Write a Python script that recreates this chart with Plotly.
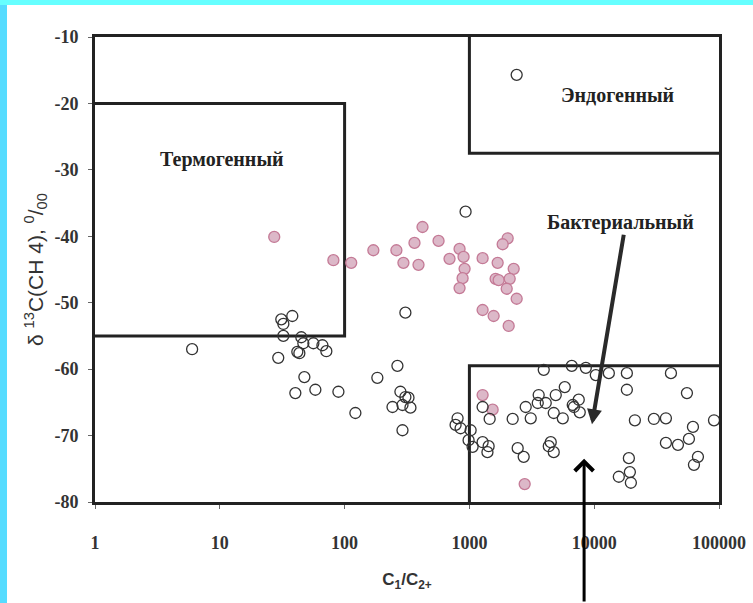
import plotly.graph_objects as go
import math

# ---- data (C1/C2+ ratio, delta13C of CH4 in permil) ----
pink_x = [27.3, 81.3, 113, 170, 260, 296, 363, 391, 421, 566, 693, 834, 898, 915, 882, 834,
          1276, 1684, 2026, 1847, 2264, 1622, 1715, 2103, 1990, 2392, 1276, 1564, 2064,
          1276, 1535, 2773]
pink_y = [-40.1, -43.6, -44.0, -42.1, -42.1, -44.0, -41.0, -44.3, -38.6, -40.7, -43.4, -41.9,
          -43.1, -44.9, -46.3, -47.8, -43.3, -44.0, -40.3, -41.2, -44.9, -46.4, -46.6, -46.4,
          -47.9, -49.4, -51.1, -52.0, -53.5, -63.9, -66.1, -77.3]

black_x = [2392, 932, 307, 38.1, 31.1, 32.3, 32.3, 45.0, 46.7, 56.2, 66.4, 71.4, 41.8, 43.4,
           6.0, 29.4, 47.6, 40.3, 58.3, 89.2, 122, 183,
           265, 280, 307, 242, 291, 337, 325, 291,
           804, 775, 850, 1023, 985, 1061, 1276, 1426, 1395,
           3942, 6610, 8570, 10300, 13100, 5810, 4920, 3590, 4090, 3530, 2825, 3100, 2222,
           1453, 1276, 4740, 5600, 6730, 7520, 7660, 6880, 2437, 2723, 4485, 4740, 4325, 15750,
           18270, 41200, 18270, 55340, 21180, 30070, 37550, 91200, 61840, 57410, 37550, 46880,
           67800, 63000, 18960, 19310, 19670]
black_y = [-15.7, -36.3, -51.5, -52.0, -52.5, -53.2, -55.0, -55.2, -56.1, -56.1, -56.4, -57.3,
           -57.4, -57.6, -57.0, -58.3, -61.2, -63.6, -63.1, -63.4, -66.6, -61.3,
           -59.5, -63.4, -64.2, -65.7, -65.4, -65.8, -64.3, -69.2,
           -67.4, -68.4, -68.9, -69.2, -70.7, -71.7, -71.0, -71.6, -72.5,
           -60.1, -59.5, -59.8, -60.9, -60.6, -62.7, -63.9, -63.9, -65.1, -65.1, -65.7, -67.4,
           -67.5, -67.5, -65.7, -66.6, -67.4, -65.4, -64.6, -66.5, -65.7, -71.9, -73.2, -71.0,
           -72.5, -71.6, -76.2,
           -60.6, -60.6, -63.1, -63.6, -67.7, -67.5, -67.4, -67.7, -68.7, -70.5, -71.1, -71.4,
           -73.2, -74.4, -73.4, -75.5, -77.1]

x_ticks = [1, 10, 100, 1000, 10000, 100000]
x_tick_text = ["1", "10", "100", "1000", "10000", "100000"]
y_ticks = [-10, -20, -30, -40, -50, -60, -70, -80]
y_tick_text = ["-10", "-20", "-30", "-40", "-50", "-60", "-70", "-80"]

# genetic fields (x: C1/C2+, y: delta13C)
thermo_x = [1, 100, 100, 1]
thermo_y = [-20, -20, -55, -55]
endo_x = [1000, 1000, 100000]
endo_y = [-10, -27.5, -27.5]
bact_x = [1000, 1000, 100000]
bact_y = [-80, -59.5, -59.5]

zone_labels = ["Термогенный", "Эндогенный", "Бактериальный"]
zone_label_x = [10.5, 15500, 16300]
zone_label_y = [-28.5, -18.7, -37.9]

W, H = 753, 603
ML, MR, MT, MB = 95, 34, 37, 101
PW, PH = W - ML - MR, H - MT - MB

LINE = "#222222"
fig = go.Figure()

for xs, ys in [(thermo_x, thermo_y), (endo_x, endo_y), (bact_x, bact_y)]:
    fig.add_trace(go.Scatter(x=xs, y=ys, mode="lines",
                             line=dict(color=LINE, width=3),
                             hoverinfo="skip", showlegend=False))

fig.add_trace(go.Scatter(x=pink_x, y=pink_y, mode="markers",
                         marker=dict(size=11, color="#dcb8c8",
                                     line=dict(color="#c47a96", width=1.3)),
                         showlegend=False))
fig.add_trace(go.Scatter(x=black_x, y=black_y, mode="markers",
                         marker=dict(size=11, color="rgba(0,0,0,0)",
                                     line=dict(color="#333333", width=1.3)),
                         showlegend=False))

for t, lx, ly in zip(zone_labels, zone_label_x, zone_label_y):
    fig.add_annotation(x=math.log10(lx), y=ly, text=t, showarrow=False,
                       font=dict(family="Liberation Serif", size=20, color="#222", weight="bold"))

# arrow from "Бактериальный" label
fig.add_annotation(x=math.log10(9600), y=-68.3, ax=32, ay=-191, text="",
                   showarrow=True, arrowhead=2, arrowsize=0.75, arrowwidth=4,
                   arrowcolor="#2a2a2a")
# vertical arrow from below
fig.add_annotation(x=math.log10(8300), y=-73.5, ax=0, ay=145, text="",
                   showarrow=True, arrowhead=4, arrowsize=1.2, arrowwidth=3,
                   arrowcolor="#000000")

# cyan frame strips
def px2paper_x(p):
    return (p - ML) / PW

def px2paper_y(p):
    return (H - MB - p) / PH

fig.add_shape(type="rect", xref="paper", yref="paper",
              x0=px2paper_x(0), x1=px2paper_x(7), y0=px2paper_y(H), y1=px2paper_y(0),
              fillcolor="#55dcff", line=dict(width=0), layer="below")
fig.add_shape(type="rect", xref="paper", yref="paper",
              x0=px2paper_x(0), x1=px2paper_x(W), y0=px2paper_y(5), y1=px2paper_y(0),
              fillcolor="#66ffff", line=dict(width=0), layer="below")

tickfont = dict(family="Liberation Serif", size=18, color="#333", weight="bold")
fig.update_xaxes(type="log", range=[0, 5], tickvals=x_ticks, ticktext=x_tick_text,
                 showgrid=False, zeroline=False, showline=True, mirror=True,
                 linecolor=LINE, linewidth=3, ticks="outside", ticklen=4, tickwidth=1,
                 tickcolor="#666", tickfont=tickfont, ticklabelstandoff=18,
                 title=dict(text="C<sub>1</sub>/C<sub>2+</sub>", standoff=22,
                            font=dict(family="Liberation Sans", size=17, color="#333",
                                      weight="bold")))
fig.update_yaxes(range=[-80, -10], tickvals=y_ticks, ticktext=y_tick_text,
                 showgrid=False, zeroline=False, showline=True, mirror=True,
                 linecolor=LINE, linewidth=3, ticks="outside", ticklen=4, tickwidth=1,
                 tickcolor="#666", tickfont=tickfont, ticklabelstandoff=6,
                 title=dict(text="δ <sup>13</sup>C(CH 4), <sup>0</sup>/<sub>00</sub>", standoff=6,
                            font=dict(family="Liberation Sans", size=21, color="#333")))

fig.update_layout(width=W, height=H, margin=dict(l=ML, r=MR, t=MT, b=MB, autoexpand=False),
                  paper_bgcolor="white", plot_bgcolor="white")

fig.write_html("out.html")
